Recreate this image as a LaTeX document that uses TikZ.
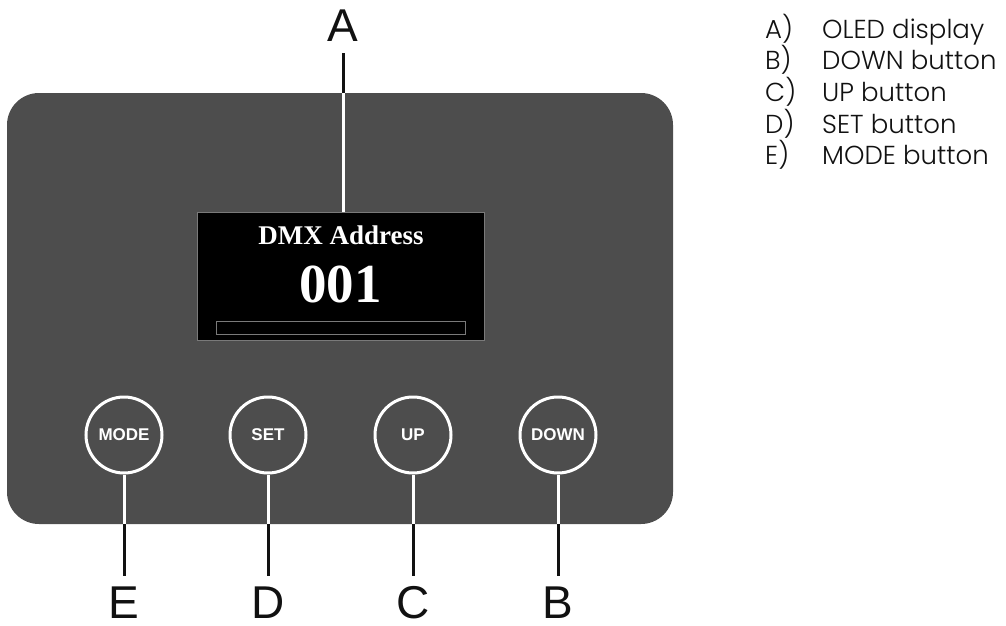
\documentclass[tikz,border=0pt]{standalone}
\usepackage{fontspec}
\usepackage{xcolor}
\usepackage{tikz}
\usetikzlibrary{calc,positioning}
\setmainfont{Poppins Light}
\newfontfamily\arialf{Liberation Sans}
\newfontfamily\timesf{Liberation Serif}
\definecolor{panel}{HTML}{4D4D4D}
\definecolor{frame}{HTML}{7A7A7A}
\definecolor{ink}{HTML}{111111}
\tikzset{
  housing/.style={fill=panel, draw=none, rounded corners=32pt, inner sep=0pt},
  screen/.style={fill=black, draw=frame, line width=1pt, inner sep=0pt},
  bar/.style={draw=frame, line width=1pt, inner sep=0pt},
  btn/.style={circle, draw=white, line width=3pt, minimum size=76pt, inner sep=0pt,
    text=white, font=\arialf\bfseries\fontsize{17}{17}\selectfont},
  letter/.style={inner sep=0pt, text=ink,
    font=\arialf\fontsize{46}{46}\selectfont},
  wlead/.style={draw=white, line width=3pt},
  blead/.style={draw=ink, line width=3pt},
  legend/.style={anchor=base west, inner sep=0pt, text=ink,
    font=\fontsize{26}{26}\selectfont},
}

\begin{document}
\begin{tikzpicture}[x=1pt,y=-1pt]
  \useasboundingbox (0,0) rectangle (1006,626);
  % housing and OLED display
  \node[housing, minimum width=666pt, minimum height=431pt] (panel) at (340,308.5) {};
  \node[screen, minimum width=287pt, minimum height=128pt] (disp) at (340.5,276) {};
  \node[anchor=base, text=white, inner sep=0pt, font=\timesf\bfseries\fontsize{27}{27}\selectfont]
    (title) at (341,244) {DMX Address};
  \node[anchor=base, text=white, inner sep=0pt, font=\timesf\bfseries\fontsize{55}{55}\selectfont]
    (value) at (340.5,302) {001};
  \node[bar, minimum width=249pt, minimum height=13pt] (level) at (340.5,327.5) {};
  % buttons
  \foreach \X/\name/\x in {E/MODE/124,D/SET/268,C/UP/413,B/DOWN/558}
    \node[btn] (btn\X) at (\x,435) {\name};
  % callout letters
  \node[letter, anchor=base] (lblA) at (343,42) {A};
  \foreach \X/\x in {E/124,D/268,C/413,B/558}
    \node[letter, anchor=base] (lbl\X) at (\x,618) {\X};
  % leader lines
  \draw[blead, shorten <=11pt] (lblA.south) -- (lblA.south |- panel.north);
  \draw[wlead] (lblA.south |- panel.north) -- (lblA.south |- disp.north);
  \foreach \X in {E,D,C,B}{
    \draw[wlead] (btn\X.south) -- (btn\X.south |- panel.south);
    \draw[blead, shorten >=10pt] (btn\X.south |- panel.south) -- (lbl\X.north);
  }
  % legend
  \foreach \X/\txt/\y in {A/OLED display/38.5,B/DOWN button/70,C/UP button/101.5,
                          D/SET button/133,E/MODE button/164.5}{
    \node[legend] (key\X) at (765,\y) {\X)};
    \node[legend] (txt\X) at (822,\y) {\txt};
  }
\end{tikzpicture}
\end{document}
